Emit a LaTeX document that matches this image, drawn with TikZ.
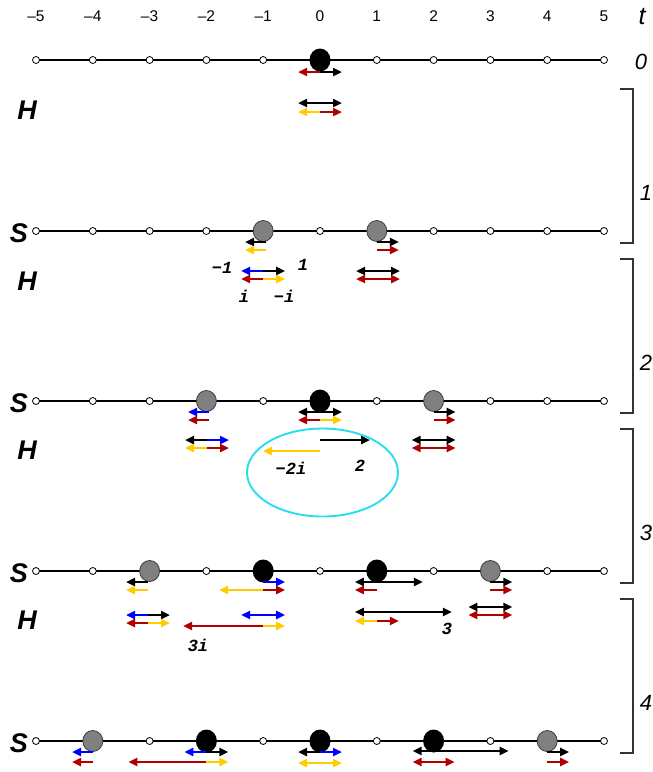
\documentclass[tikz,border=0pt]{standalone}
\usepackage{fontspec}
\setmainfont{Liberation Sans}
\setmonofont{Liberation Mono}
\usetikzlibrary{arrows.meta}
\definecolor{dred}{RGB}{176,0,0}
\definecolor{gold}{RGB}{255,204,0}
\definecolor{vblue}{RGB}{0,0,255}
\definecolor{ring}{RGB}{40,222,238}
\definecolor{pgray}{RGB}{128,128,128}
\definecolor{pedge}{RGB}{60,60,60}
\tikzset{
  axis/.style={line width=2.7pt},
  site/.style={circle,draw,fill=white,line width=0.8pt,inner sep=0pt,minimum size=7pt},
  bpart/.style={ellipse,fill=black,inner sep=0pt,minimum width=21pt,minimum height=23pt},
  gpart/.style={ellipse,fill=pgray,draw=pedge,line width=0.8pt,inner sep=0pt,minimum width=20pt,minimum height=21pt},
  varr/.style={-{Triangle[length=9pt,width=8pt]},line width=2.3pt},
  ticklab/.style={font=\fontsize{15.5}{15.5}\selectfont},
  rowlab/.style={font=\fontsize{27}{27}\selectfont\bfseries\itshape},
  steplab/.style={font=\fontsize{22}{22}\selectfont\itshape},
  amp/.style={font=\fontsize{17}{17}\selectfont\ttfamily\bfseries\itshape},
  bracketline/.style={line width=1.1pt,draw=black!80}
}
\usetikzlibrary{shapes.geometric}
% horizontal vector: colour, x of tail, y, signed length
\newcommand\harr[4]{\draw[varr,#1] (#2,#3) -- ++(#4,0);}
\begin{document}
\begin{tikzpicture}[x=1pt,y=-1pt]
\useasboundingbox (0,0) rectangle (653,772);

% time axis labels
\foreach \k/\t in {0/{–5},1/{–4},2/{–3},3/{–2},4/{–1},5/0,6/1,7/2,8/3,9/4,10/5}
  \node[ticklab] (tk\k) at ({36+56.8*\k},16) {\t};
\node[font=\fontsize{25}{25}\selectfont\itshape] (tlab) at (642,17) {t};

% lattice rows
\foreach \r/\y in {0/60,1/231,2/401,3/571,4/741}{
  \coordinate (L\r) at (36,\y);
  \coordinate (R\r) at (604,\y);
  \draw[axis] (L\r) -- (R\r);
  \foreach \k in {0,...,10}
    \node[site] (s\r-\k) at ({36+56.8*\k},\y) {};
}

% particles
\node[bpart] (p0a) at (s0-5) {};
\node[gpart] (p1a) at (s1-4) {};
\node[gpart] (p1b) at (s1-6) {};
\node[gpart] (p2a) at (s2-3) {};
\node[bpart] (p2b) at (s2-5) {};
\node[gpart] (p2c) at (s2-7) {};
\node[gpart] (p3a) at (s3-2) {};
\node[bpart] (p3b) at (s3-4) {};
\node[bpart] (p3c) at (s3-6) {};
\node[gpart] (p3d) at (s3-8) {};
\node[gpart] (p4a) at (s4-1) {};
\node[bpart] (p4b) at (s4-3) {};
\node[bpart] (p4c) at (s4-5) {};
\node[bpart] (p4d) at (s4-7) {};
\node[gpart] (p4e) at (s4-9) {};

% row labels
\node[steplab] (n0) at (641,62) {0};
\foreach \i/\y in {0/110,1/281,2/450,3/620}
  \node[rowlab] (h\i) at (27,\y) {H};
\foreach \i/\y in {1/233,2/403,3/573,4/743}
  \node[rowlab] (sl\i) at (19,\y) {S};

% step brackets
\foreach \i/\a in {1/89,2/259,3/429,4/599}{
  \draw[bracketline] (620,\a) -- (633,\a) -- (633,\a+154) -- (620,\a+154);
  \node[steplab] (st\i) at (646,\a+104) {\i};
}

% ---- step 0
\harr{dred}{320}{72}{-22}  \harr{black}{320}{72}{22}
\harr{black}{320}{103}{-22} \harr{black}{320}{103}{22}
\harr{gold}{320}{112}{-22} \harr{dred}{320}{112}{22}

% ---- step 1
\harr{black}{266}{242}{-21} \harr{gold}{266}{250}{-21}
\harr{black}{376.8}{242}{22} \harr{dred}{376.8}{250}{22}
\harr{vblue}{263.2}{271}{-22} \harr{black}{263.2}{271}{22}
\harr{dred}{263.2}{279}{-22} \harr{gold}{263.2}{279}{22}
\harr{black}{378}{271}{-22} \harr{black}{378}{271}{22}
\harr{dred}{378}{279}{-22} \harr{dred}{378}{279}{22}
\node[amp] (m1) at (222,268) {−1};
\node[amp] (p1) at (303,265) {1};
\node[amp] (ii) at (244,296) {i};
\node[amp] (mi) at (284,296) {−i};

% ---- step 2
\harr{vblue}{209}{412}{-21} \harr{dred}{209}{420}{-21}
\harr{black}{320}{412}{-22} \harr{black}{320}{412}{22}
\harr{dred}{320}{420}{-22} \harr{gold}{320}{420}{22}
\harr{black}{433.6}{412}{22} \harr{dred}{433.6}{420}{22}
\harr{black}{207}{440}{-22} \harr{vblue}{207}{440}{22}
\harr{gold}{207}{448}{-22} \harr{dred}{207}{448}{22}
\harr{black}{433.6}{440}{-22} \harr{black}{433.6}{440}{22}
\harr{dred}{433.6}{448}{-22} \harr{dred}{433.6}{448}{22}
\draw[ring,line width=1.9pt] (322.5,472.5) ellipse [x radius=75.5,y radius=44];
\harr{black}{320}{440}{50}
\harr{gold}{320}{451}{-57}
\node[amp] (m2i) at (291,468) {−2i};
\node[amp] (two) at (360,466) {2};

% ---- step 3
\harr{black}{148}{582}{-22} \harr{gold}{148}{590}{-22}
\harr{vblue}{263.2}{582}{22}
\harr{gold}{263.2}{590}{-44} \harr{dred}{263.2}{590}{22}
\harr{black}{376.8}{582}{-22} \harr{black}{376.8}{582}{46}
\harr{dred}{376.8}{590}{-22}
\harr{black}{490.4}{582}{22} \harr{dred}{490.4}{590}{22}
\harr{vblue}{148}{615}{-22} \harr{black}{148}{615}{22}
\harr{dred}{148}{623}{-22} \harr{gold}{148}{623}{22}
\harr{vblue}{263.2}{615}{-22} \harr{vblue}{263.2}{615}{22}
\harr{dred}{263.2}{626}{-80} \harr{gold}{263.2}{626}{22}
\node[amp] (t3i) at (198,645) {3i};
\harr{black}{376.8}{612}{-22} \harr{black}{376.8}{612}{75}
\harr{gold}{376.8}{621}{-22} \harr{dred}{376.8}{621}{22}
\node[amp] (three) at (447,629) {3};
\harr{black}{490.4}{607}{-22} \harr{black}{490.4}{607}{22}
\harr{dred}{490.4}{615}{-22} \harr{dred}{490.4}{615}{22}

% ---- step 4
\harr{vblue}{93}{752}{-21} \harr{dred}{93}{762}{-21}
\harr{vblue}{206.4}{752}{-22} \harr{black}{206.4}{752}{22}
\harr{dred}{206.4}{762}{-78} \harr{gold}{206.4}{762}{22}
\harr{black}{320}{752}{-22} \harr{vblue}{320}{752}{22}
\harr{gold}{320}{763}{-22} \harr{gold}{320}{763}{22}
\harr{black}{433.6}{751}{-21} \harr{black}{433.6}{751}{75}
\harr{dred}{433.6}{762}{-21} \harr{dred}{433.6}{762}{21}
\harr{black}{547.2}{752}{22} \harr{dred}{547.2}{762}{22}
\end{tikzpicture}
\end{document}
